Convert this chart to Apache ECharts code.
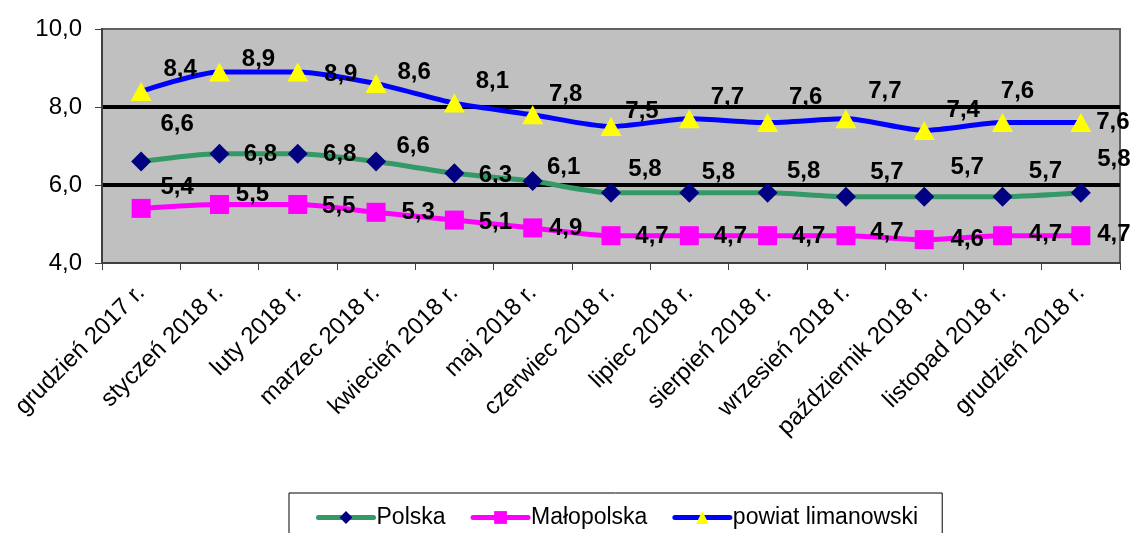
<!DOCTYPE html>
<html>
<head>
<meta charset="utf-8">
<script src="https://cdn.jsdelivr.net/npm/echarts@6/dist/echarts.min.js"></script>
<style>
  html, body { margin: 0; padding: 0; background: #fff; }
  #chart { width: 1134px; height: 533px; }
</style>
</head>
<body>
<div id="chart"></div>
<script>
// months on the x axis
var months = ['grudzień 2017 r.', 'styczeń 2018 r.', 'luty 2018 r.', 'marzec 2018 r.', 'kwiecień 2018 r.',
    'maj 2018 r.', 'czerwiec 2018 r.', 'lipiec 2018 r.', 'sierpień 2018 r.', 'wrzesień 2018 r.',
    'październik 2018 r.', 'listopad 2018 r.', 'grudzień 2018 r.'];

// stopa bezrobocia (%)
var polska = [6.6, 6.8, 6.8, 6.6, 6.3, 6.1, 5.8, 5.8, 5.8, 5.7, 5.7, 5.7, 5.8];
var malopolska = [5.4, 5.5, 5.5, 5.3, 5.1, 4.9, 4.7, 4.7, 4.7, 4.7, 4.6, 4.7, 4.7];
var powiat = [8.4, 8.9, 8.9, 8.6, 8.1, 7.8, 7.5, 7.7, 7.6, 7.7, 7.4, 7.6, 7.6];

var yTicks = [4, 6, 8, 10];

// where excel put the data labels, relative to the point (px)
var polskaLabelShift = [[36, -37], [41, 1], [42, 1], [37, -15], [41, 2], [31, -14], [34, -23], [29, -20], [36, -21], [41, -24], [43, -29], [43, -25], [33, -33]];
var malopolskaLabelShift = [[36, -21], [33, -10], [41, 2], [42, 0], [41, 2], [33, 0], [41, 1], [41, 1], [41, 1], [41, -3], [43, 0], [43, -1], [33, -1]];
var powiatLabelShift = [[39, -22], [39, -13], [43, 2], [38, -11], [38, -22], [33, -20], [31, -15], [38, -21], [38, -25], [39, -27], [39, -20], [15, -31], [32, 0]];

var font = '"Liberation Sans", Arial, sans-serif';

function comma(v) {
    return Number(v).toFixed(1).replace('.', ',');
}

function withLabels(values, shifts) {
    return values.map(function (v, i) {
        return { value: v, label: { offset: shifts[i] } };
    });
}

function lineSeries(name, values, shifts, lineColor, symbol, symbolSize, symbolColor) {
    return {
        name: name,
        type: 'line',
        smooth: 0.25,
        symbol: symbol,
        symbolSize: symbolSize,
        z: 3,
        lineStyle: { color: lineColor, width: 5 },
        itemStyle: { color: symbolColor, borderWidth: 0 },
        label: {
            show: true,
            position: 'inside',
            color: '#000',
            fontFamily: font,
            fontWeight: 'bold',
            fontSize: 24,
            formatter: function (p) { return comma(p.value); }
        },
        data: withLabels(values, shifts)
    };
}

var chart = echarts.init(document.getElementById('chart'));

var option = {
    animation: false,
    backgroundColor: '#fff',
    textStyle: { fontFamily: font, color: '#000' },
    grid: {
        left: 102,
        right: 14,
        top: 29,
        bottom: 270,
        show: true,
        backgroundColor: '#c0c0c0',
        borderColor: '#606060',
        borderWidth: 2
    },
    legend: {
        left: 289,
        top: 493,
        width: 650,
        padding: [13, 24, 30, 27],
        borderColor: '#000',
        borderWidth: 1,
        itemWidth: 55,
        itemHeight: 16,
        itemGap: 25,
        lineStyle: { width: 5, cap: 'round' },
        textStyle: { fontFamily: font, fontSize: 23, color: '#000', padding: [0, 0, 0, -2] },
        data: ['Polska', 'Małopolska', 'powiat limanowski']
    },
    xAxis: {
        type: 'category',
        data: months,
        boundaryGap: true,
        axisLine: { lineStyle: { color: '#404040', width: 2 } },
        axisTick: { show: true, length: 7, lineStyle: { color: '#404040', width: 1 } },
        axisLabel: {
            interval: 0,
            rotate: 45,
            margin: 26,
            fontFamily: font,
            fontSize: 24,
            color: '#000'
        },
        splitLine: { show: false }
    },
    yAxis: {
        type: 'value',
        min: yTicks[0],
        max: yTicks[yTicks.length - 1],
        interval: 2,
        axisLine: { show: true, lineStyle: { color: '#404040', width: 2 } },
        axisTick: { show: true, length: 7, lineStyle: { color: '#404040', width: 1 } },
        axisLabel: {
            margin: 20,
            fontFamily: font,
            fontSize: 24,
            color: '#000',
            formatter: function (v) { return comma(v); }
        },
        splitLine: {
            show: true,
            showMinLine: false,
            showMaxLine: false,
            lineStyle: { color: '#000', width: 4 }
        }
    },
    series: [
        lineSeries('Polska', polska, polskaLabelShift, '#339966', 'diamond', 20, '#000080'),
        lineSeries('Małopolska', malopolska, malopolskaLabelShift, '#ff00ff', 'rect', 19, '#ff00ff'),
        lineSeries('powiat limanowski', powiat, powiatLabelShift, '#0000ff', 'triangle', [21, 19], '#ffff00')
    ]
};

chart.setOption(option);
</script>
</body>
</html>
